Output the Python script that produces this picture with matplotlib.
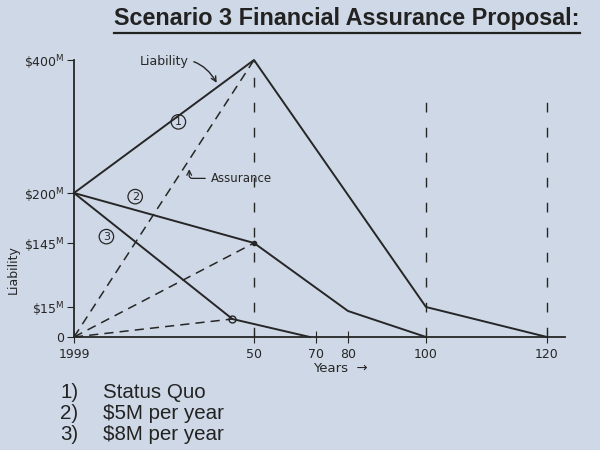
import numpy as np
import matplotlib
matplotlib.use('Agg')
import matplotlib.pyplot as plt
from matplotlib.lines import Line2D

# Данные (годы, миллионы $)
years_1 = [0, 50, 100, 120]
liab_1 = [200, 400, 15, 0]          # 1) Status Quo
years_2 = [0, 50, 80, 100]
liab_2 = [200, 145, 13, 0]          # 2) $5M per year
years_3 = [0, 44, 68]
liab_3 = [200, 9, 0]                # 3) $8M per year

# Линии обеспечения (assurance) из начала координат
assur_years = [44, 50, 50]
assur_vals = [9, 145, 400]

vline_years = [50, 100, 120]
vline_tops = [400, 340, 340]

x_ticks = [0, 50, 70, 80, 100, 120]
x_labels = ['1999', '50', '70', '80', '100', '120']
y_ticks = [0, 15, 145, 200, 400]
y_labels = ['0', r'\$15$^\mathrm{M}$', r'\$145$^\mathrm{M}$',
            r'\$200$^\mathrm{M}$', r'\$400$^\mathrm{M}$']

legend_items = ['Status Quo', '$5M per year', '$8M per year']

# Шкалы нарисованы от руки, поэтому неравномерные
x_anchor = [0, 50, 70, 80, 100, 120, 125]
x_pos = [0, 180, 242, 274, 352, 473, 491]
y_anchor = [0, 15, 145, 200, 400, 415]
y_pos = [0, 30, 94, 144, 277, 285]

ink = '#262626'
bg = '#cfd8e6'

fig = plt.figure(figsize=(6, 4.5), dpi=100, facecolor=bg)
ax = fig.add_axes([74 / 600, 113 / 450, 491 / 600, 285 / 450])
ax.set_facecolor(bg)

ax.set_xscale('function', functions=(lambda v: np.interp(v, x_anchor, x_pos),
                                     lambda p: np.interp(p, x_pos, x_anchor)))
ax.set_yscale('function', functions=(lambda v: np.interp(v, y_anchor, y_pos),
                                     lambda p: np.interp(p, y_pos, y_anchor)))
ax.set_xlim(0, 125)
ax.set_ylim(0, 415)

# Основные линии
for xs, ys in [(years_1, liab_1), (years_2, liab_2), (years_3, liab_3)]:
    ax.plot(xs, ys, color=ink, lw=1.4, solid_joinstyle='round', clip_on=False)

# Линии обеспечения
for xa, ya in zip(assur_years, assur_vals):
    ax.plot([0, xa], [0, ya], color=ink, lw=1.1, dashes=(6, 4), clip_on=False)

for xv, top in zip(vline_years, vline_tops):
    ax.plot([xv, xv], [0, top], color=ink, lw=1.0, dashes=(7, 11))

ax.plot([50], [145], 'o', color=ink, ms=3)
ax.plot([44], [9], 'o', mfc='none', mec=ink, ms=5, mew=1)

# Оси
for s in ['top', 'right']:
    ax.spines[s].set_visible(False)
ax.spines['left'].set_bounds(0, 400)
ax.spines['left'].set_color(ink)
ax.spines['bottom'].set_color(ink)
ax.spines['left'].set_linewidth(1.3)
ax.spines['bottom'].set_linewidth(1.3)

ax.set_xticks(x_ticks)
ax.set_xticklabels(x_labels)
ax.set_yticks(y_ticks)
ax.set_yticklabels(y_labels)
ax.tick_params(axis='x', direction='inout', length=8, colors=ink, labelsize=9, pad=4)
ax.tick_params(axis='y', direction='out', length=5, colors=ink, labelsize=9, pad=2)
ax.minorticks_off()

# Номера сценариев
for lbl, (xl, yl) in zip(['1', '2', '3'], [(29, 307), (17, 196), (9, 152)]):
    ax.text(xl, yl, lbl, fontsize=8, color=ink, ha='center', va='center',
            bbox=dict(boxstyle='circle,pad=0.2', fc='none', ec=ink, lw=0.9))

ax.annotate('Liability', xy=(40, 362), xytext=(25, 398), fontsize=9, color=ink,
            ha='center', va='center',
            arrowprops=dict(arrowstyle='->', color=ink, lw=1,
                            connectionstyle='arc3,rad=-0.4'))
ax.annotate('Assurance', xy=(32, 240), xytext=(38, 222), fontsize=8.5, color=ink,
            ha='left', va='center',
            arrowprops=dict(arrowstyle='->', color=ink, lw=0.9,
                            connectionstyle='angle,angleA=180,angleB=90,rad=3'))

fig.text(13 / 600, 1 - 270 / 450, 'Liability', rotation=90, fontsize=9,
         color=ink, ha='center', va='center')
fig.text(340 / 600, 1 - 368 / 450, 'Years  \u2192', fontsize=9.5, color=ink,
         ha='center', va='center')

# Заголовок с подчёркиванием
fig.text(347 / 600, 1 - 19 / 450, 'Scenario 3 Financial Assurance Proposal:',
         fontsize=16.8, fontweight='bold', family='Liberation Sans',
         color='#222222', ha='center', va='center')
fig.add_artist(Line2D([114 / 600, 580 / 600], [1 - 33 / 450, 1 - 33 / 450],
                      color='#222222', lw=1.6))

# Легенда внизу
for i, item in enumerate(legend_items):
    yy = 1 - (392 + 21.5 * i) / 450
    fig.text(60 / 600, yy, f'{i + 1})', fontsize=14.8, family='Liberation Sans',
             color='#222222', va='center')
    fig.text(103 / 600, yy, item.replace('$', r'\$'), fontsize=14.8,
             family='Liberation Sans', color='#222222', va='center')

fig.savefig('out.png', dpi=100, facecolor=bg)
